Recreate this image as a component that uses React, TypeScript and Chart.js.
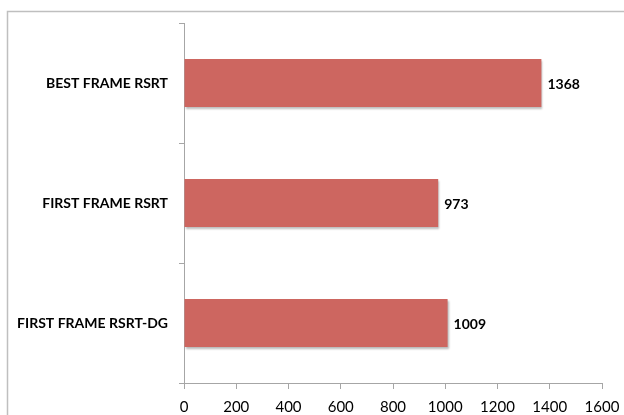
import React, { useEffect, useRef } from "react";
import { Chart, registerables } from "chart.js";

Chart.register(...registerables);

const categories = ["BEST FRAME RSRT", "FIRST FRAME RSRT", "FIRST FRAME RSRT-DG"];
const values = [1368, 973, 1009];
const xTicks = [0, 200, 400, 600, 800, 1000, 1200, 1400, 1600];

const FONT = "Lato, 'Liberation Sans', sans-serif";
const BAR_COLOR = "#CD6660";
const AXIS_COLOR = "#A6A6A6";

// Outer chart frame (only its top and left edges fall inside the canvas)
const framePlugin = {
  id: "frame",
  beforeDraw(chart: any) {
    const ctx = chart.ctx;
    ctx.save();
    ctx.strokeStyle = "#BFBFBF";
    ctx.lineWidth = 1.5;
    ctx.beginPath();
    ctx.moveTo(7.5, chart.height + 2);
    ctx.lineTo(7.5, 11.5);
    ctx.lineTo(chart.width + 2, 11.5);
    ctx.stroke();
    ctx.restore();
  },
};

// Soft drop shadow under each bar
const shadowPlugin = {
  id: "barShadow",
  beforeDatasetsDraw(chart: any) {
    const ctx = chart.ctx;
    ctx.save();
    ctx.shadowColor = "rgba(0,0,0,0.28)";
    ctx.shadowBlur = 2;
    ctx.shadowOffsetX = 1;
    ctx.shadowOffsetY = 2;
  },
  afterDatasetsDraw(chart: any) {
    chart.ctx.restore();
  },
};

// Value labels just past the end of each bar
const valueLabelPlugin = {
  id: "valueLabels",
  afterDatasetsDraw(chart: any) {
    const ctx = chart.ctx;
    const meta = chart.getDatasetMeta(0);
    ctx.save();
    ctx.fillStyle = "#000";
    ctx.font = `bold 14px ${FONT}`;
    ctx.textAlign = "left";
    ctx.textBaseline = "middle";
    meta.data.forEach((bar: any, i: number) => {
      ctx.fillText(String(values[i]), bar.x + 6, bar.y + 1);
    });
    ctx.restore();
  },
};

export default function App() {
  const ref = useRef<HTMLCanvasElement>(null);

  useEffect(() => {
    if (!ref.current) return;
    const chart = new Chart(ref.current, {
      type: "bar",
      data: {
        labels: categories,
        datasets: [
          {
            data: values,
            backgroundColor: BAR_COLOR,
            borderWidth: 0,
            categoryPercentage: 1,
            barPercentage: 0.4,
          },
        ],
      },
      options: {
        indexAxis: "y",
        animation: false,
        responsive: false,
        maintainAspectRatio: false,
        layout: { padding: { top: 23, right: 22, bottom: 0, left: 0 } },
        plugins: {
          legend: { display: false },
          tooltip: { enabled: false },
        },
        scales: {
          x: {
            min: 0,
            max: 1600,
            afterBuildTicks(scale: any) {
              scale.ticks = xTicks.map((v) => ({ value: v }));
            },
            afterFit(scale: any) {
              scale.height = 32;
              scale.paddingLeft = 0;
              scale.paddingRight = 0;
            },
            grid: {
              drawOnChartArea: false,
              drawTicks: true,
              tickLength: 6,
              color: AXIS_COLOR,
            },
            border: { display: true, color: AXIS_COLOR, width: 1 },
            ticks: {
              color: "#000",
              font: { family: FONT, size: 15 },
              padding: 9,
              maxRotation: 0,
              callback: (v: any) => String(v),
            },
          },
          y: {
            afterFit(scale: any) {
              scale.width = 184;
            },
            grid: {
              offset: true,
              drawOnChartArea: false,
              drawTicks: true,
              tickLength: 5,
              color: AXIS_COLOR,
            },
            border: { display: true, color: AXIS_COLOR, width: 1 },
            ticks: {
              color: "#000",
              font: { family: FONT, size: 14, weight: "bold" },
              padding: 11,
            },
          },
        },
      },
      plugins: [framePlugin, shadowPlugin, valueLabelPlugin],
    });
    return () => chart.destroy();
  }, []);

  return (
    <div style={{ position: "fixed", left: 0, top: 0, width: 624, height: 415, background: "#fff" }}>
      <canvas ref={ref} width={624} height={415} style={{ display: "block" }} />
    </div>
  );
}
